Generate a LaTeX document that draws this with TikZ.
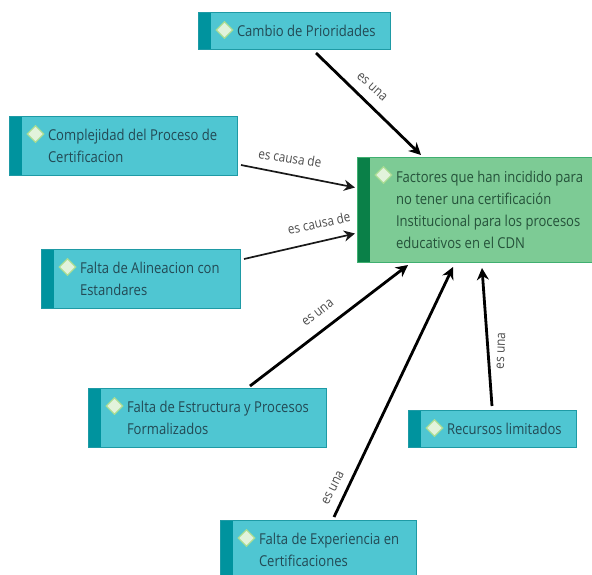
\documentclass[tikz,border=0pt]{standalone}
\usepackage{fontspec}
\setmainfont[FakeStretch=0.87]{Open Sans}
\usetikzlibrary{arrows.meta,shapes.geometric}
\definecolor{tealfill}{HTML}{4FC6D2}
\definecolor{tealbar}{HTML}{00939E}
\definecolor{tealline}{HTML}{1E9AA5}
\definecolor{tealtext}{HTML}{234A55}
\definecolor{greenfill}{HTML}{7DCB95}
\definecolor{greenbar}{HTML}{0A8048}
\definecolor{greenline}{HTML}{3FAF70}
\definecolor{greentext}{HTML}{25523A}
\definecolor{pinfill}{HTML}{E2F3DC}
\definecolor{pinline}{HTML}{A9DC93}
\tikzset{
  x=1pt,y=-1pt,
  conceptbox/.style={draw=#1line,fill=#1fill,text=#1text,line width=1pt,anchor=north west,
    align=left,inner xsep=0pt,inner ysep=0pt,
    font=\fontsize{15}{22}\selectfont,
    path picture={\fill[#1bar] (path picture bounding box.north west) rectangle ([xshift=12pt]path picture bounding box.south west);}},
  pinmark/.style={diamond,fill=pinfill,draw=pinline,line width=1.2pt,minimum size=17pt,inner sep=0pt},
  heavy/.style={draw=black,line width=2.8pt,-{Stealth[length=12pt,width=12pt]}},
  light/.style={draw=black!90,line width=1.7pt,-{Stealth[length=11pt,width=11pt]}},
  linktext/.style={text=black!70,font=\fontsize{13.5}{16}\selectfont,inner sep=0pt},
}
\newcommand{\conceptnode}[7]{%
  \node[conceptbox=#2,minimum width=#5pt,minimum height=#6pt] (#1) at (#3,#4)
    {\hspace*{37pt}\parbox{\dimexpr#5pt-40pt\relax}{\raggedright #7}};
  \node[pinmark] (#1-pin) at ([xshift=26.5pt,yshift=-18pt]#1.north west) {};
}
\begin{document}
\begin{tikzpicture}
\clip (0,0) rectangle (592,574);
\fill[white] (0,0) rectangle (592,574);
\conceptnode{cambio}{teal}{198}{12}{192}{37}{Cambio de Prioridades}
\conceptnode{complejidad}{teal}{9}{116}{228}{59}{Complejidad del Proceso de Certificacion}
\conceptnode{alineacion}{teal}{41}{249}{199}{59}{Falta de Alineacion con Estandares}
\conceptnode{estructura}{teal}{88}{388}{238}{59}{Falta de Estructura y Procesos Formalizados}
\conceptnode{recursos}{teal}{408}{410}{168}{37}{Recursos limitados}
\conceptnode{experiencia}{teal}{220}{520}{196}{59}{Falta de Experiencia en Certificaciones}
\conceptnode{factores}{green}{357}{157}{245}{105}{Factores que han incidido para no tener una certificación Institucional para los procesos educativos en el CDN}
\draw[heavy] ([xshift=118pt,yshift=-3pt]cambio.south west) -- ([xshift=64pt,yshift=2pt]factores.north west);
\draw[light] ([xshift=3pt,yshift=11pt]complejidad.south east) -- ([xshift=-2pt,yshift=22.5pt]factores.west);
\draw[light] ([xshift=3pt,yshift=-10pt]alineacion.north east) -- ([xshift=-2pt,yshift=-23.5pt]factores.west);
\draw[heavy] ([xshift=-77pt,yshift=2pt]estructura.north east) -- ([xshift=51pt,yshift=-2pt]factores.south west);
\draw[heavy] ([xshift=114pt,yshift=3pt]experiencia.north west) -- ([xshift=96pt,yshift=-4pt]factores.south west);
\draw[heavy] ([xshift=84pt,yshift=4pt]recursos.north west) -- ([xshift=125pt,yshift=-5pt]factores.south west);
\node[linktext,rotate=-42] (t1) at (372,87) {es una};
\node[linktext,rotate=-9] (t2) at (290,158) {es causa de};
\node[linktext,rotate=12] (t3) at (319,223) {es causa de};
\node[linktext,rotate=38] (t4) at (318,313) {es una};
\node[linktext,rotate=63] (t5) at (333,488) {es una};
\node[linktext,rotate=88] (t6) at (501,351) {es una};
\end{tikzpicture}
\end{document}
